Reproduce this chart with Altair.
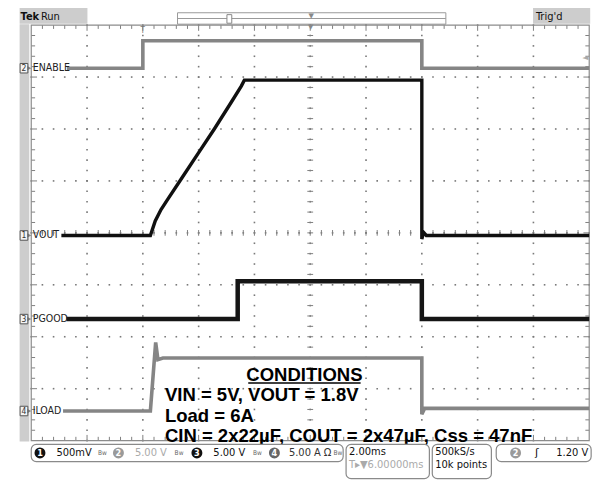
import altair as alt
import pandas as pd

# ---------------- data (graticule divisions: x 0..10 at 2 ms/div, y -4..4) ----------------
enable_x = [0.64, 2.00, 2.00, 7.00, 7.00, 10.00]
enable_y = [3.17, 3.17, 3.70, 3.70, 3.17, 3.17]

vout_x = [0.54, 2.135, 2.222, 2.326, 2.448, 2.708, 3.003, 3.281, 3.576, 3.767, 3.819, 7.00, 7.00, 7.03, 7.08, 10.00]
vout_y = [-0.05, -0.05, 0.23, 0.45, 0.65, 1.07, 1.55, 2.00, 2.50, 2.83, 2.94, 2.94, -0.12, 0.01, -0.05, -0.05]

pgood_x = [0.63, 3.70, 3.70, 7.00, 7.00, 10.00]
pgood_y = [-1.66, -1.66, -0.93, -0.93, -1.66, -1.66]

iload_x = [0.57, 2.135, 2.23, 2.27, 2.36, 7.00, 7.00, 7.05, 10.00]
iload_y = [-3.43, -3.43, -2.11, -2.44, -2.41, -2.41, -3.49, -3.38, -3.38]

chan_names = ["ENABLE", "VOUT", "PGOOD", "ILOAD"]
chan_nums = ["2", "1", "3", "4"]
chan_levels = [3.17, -0.05, -1.66, -3.43]

cond_title = "CONDITIONS"
cond_lines = ["VIN = 5V, VOUT = 1.8V", "Load = 6A", "CIN = 2x22\u00b5F, COUT = 2x47\u00b5F, Css = 47nF"]

# ---------------- geometry of the scope screen (reference pixels -> divisions) ----------------
PX, PY = 57.6, 54.625
GX0, GY0 = 24.0, 236.5


def dx(px):
    return (px - GX0) / PX


def dy(py):
    return (GY0 - py) / PY


W, H = 591, 472
xs = alt.Scale(domain=[dx(0), dx(607)], nice=False, zero=False)
ys = alt.Scale(domain=[dy(488), dy(0)], nice=False, zero=False)


def X(f="x"):
    return alt.X(f"{f}:Q", scale=xs, axis=None)


def Y(f="y"):
    return alt.Y(f"{f}:Q", scale=ys, axis=None)


layers = []


def rects(rows, **kw):
    df = pd.DataFrame([{"x": dx(a), "x2": dx(b), "y": dy(c), "y2": dy(d)} for a, b, c, d in rows])
    return alt.Chart(df).mark_rect(**kw).encode(x=X(), x2="x2:Q", y=Y(), y2="y2:Q")


def texts(rows, **kw):
    df = pd.DataFrame([{"x": dx(a), "y": dy(b), "t": t} for a, b, t in rows])
    return alt.Chart(df).mark_text(**kw).encode(x=X(), y=Y(), text="t:N")


# gray side strip and top bar panels
layers.append(rects([(12, 22, 17, 456), (12, 82, 0, 16.5), (542, 601, 0, 16.5)], color="#cdcdcd"))
# record-length bar
layers.append(rects([(175, 452, 5, 17)], fill="white", stroke="#9a9a9a", strokeWidth=1))
layers.append(rects([(175, 452, 10.5, 11.5)], color="#9a9a9a"))
layers.append(rects([(226, 231, 7, 16)], fill="white", stroke="#888", strokeWidth=1))

# ---------------- graticule ----------------
steps = [i * 0.2 for i in range(51)]
ysteps = [i * 0.2 - 4 for i in range(41)]
dots = [{"x": float(gx), "y": float(v)} for gx in range(1, 10) for v in ysteps]
dots += [{"x": float(v), "y": float(gy)} for gy in range(-3, 4) for v in steps]
layers.append(alt.Chart(pd.DataFrame(dots)).mark_square(size=2.6, color="#7a7a7a", opacity=1).encode(x=X(), y=Y()))

ticks_v = []  # vertical tick segments (x fixed)
for v in steps[1:-1]:
    L = 6 if abs(v - round(v)) < 1e-6 else 4
    ticks_v.append({"x": v, "y": 4, "y2": 4 - L / PY})
    ticks_v.append({"x": v, "y": -4, "y2": -4 + L / PY})
    ticks_v.append({"x": v, "y": 3 / PY, "y2": -3 / PY})
ticks_h = []
for v in ysteps[1:-1]:
    L = 6 if abs(v - round(v)) < 1e-6 else 4
    ticks_h.append({"y": v, "x": 0, "x2": L / PX})
    ticks_h.append({"y": v, "x": 10, "x2": 10 - L / PX})
    ticks_h.append({"y": v, "x": 5 - 3 / PX, "x2": 5 + 3 / PX})
layers.append(alt.Chart(pd.DataFrame(ticks_v)).mark_rule(color="#808080", strokeWidth=1).encode(x=X(), y=Y(), y2="y2:Q"))
layers.append(alt.Chart(pd.DataFrame(ticks_h)).mark_rule(color="#808080", strokeWidth=1).encode(x=X(), x2="x2:Q", y=Y()))
layers.append(alt.Chart(pd.DataFrame([{"x": 0, "x2": 10, "y": -4, "y2": 4}])).mark_rect(
    fill=None, stroke="#8c8c8c", strokeWidth=1.2).encode(x=X(), x2="x2:Q", y=Y(), y2="y2:Q"))

# ---------------- traces ----------------


def trace(xv, yv, color, width):
    df = pd.DataFrame({"x": xv, "y": yv, "i": list(range(len(xv)))})
    return alt.Chart(df).mark_line(color=color, strokeWidth=width, strokeJoin="miter").encode(
        x=X(), y=Y(), order="i:Q")


layers.append(trace(enable_x, enable_y, "#858585", 3.6))
layers.append(trace(iload_x, iload_y, "#858585", 3.6))
layers.append(trace(pgood_x, pgood_y, "#151515", 4.5))
layers.append(trace(vout_x, vout_y, "#101010", 3.4))

# channel markers and labels
mk = pd.DataFrame({"y": chan_levels, "n": chan_nums, "name": chan_names})
mk["xa"] = dx(12.5)
mk["xb"] = dx(20.5)
mk["ya"] = mk["y"] + 5 / PY
mk["yb"] = mk["y"] - 5 / PY
mk["xn"] = dx(16.5)
mk["xt"] = dx(22)
mk["xl"] = dx(25.5)
layers.append(alt.Chart(mk).mark_rect(fill="#f4f4f4", stroke="#555", strokeWidth=1).encode(
    x=X("xa"), x2="xb:Q", y=Y("ya"), y2="yb:Q"))
layers.append(alt.Chart(mk).mark_text(font="DejaVu Sans Condensed", fontSize=8.5, color="#333").encode(
    x=X("xn"), y=Y(), text="n:N"))
layers.append(alt.Chart(mk).mark_point(shape="triangle-right", filled=True, size=18, color="#555").encode(
    x=X("xt"), y=Y()))
layers.append(alt.Chart(mk).mark_text(font="DejaVu Sans Condensed", fontSize=10.5, color="#222", align="left",
                                      baseline="middle").encode(x=X("xl"), y=Y(), text="name:N"))

# trigger markers on the ruler / right edge
layers.append(texts([(139, 24, "T")], font="DejaVu Sans Condensed", fontSize=8, color="#777"))
layers.append(texts([(312.5, 20.5, "\u25bc"), (313, 8, "\u25bc")], font="DejaVu Sans", fontSize=7, color="#888"))
layers.append(texts([(596, 53, "\u25c4")], font="DejaVu Sans", fontSize=8, color="#aaa"))

# top status text
layers.append(texts([(13, 9, "Tek")], font="DejaVu Sans Condensed", fontSize=11, fontWeight="bold",
                    color="#111", align="left"))
layers.append(texts([(34, 9, "Run"), (545, 9, "Trig'd")], font="DejaVu Sans Condensed", fontSize=11,
                    color="#111", align="left"))

# ---------------- conditions annotation ----------------
layers.append(texts([(306, 385.5, cond_title)], font="Liberation Sans", fontSize=18.5, fontWeight="bold",
                    color="#000", align="center"))
layers.append(rects([(248, 364, 393.5, 395.2)], color="#000"))
layers.append(texts([(162, 407 + 21.7 * k, s) for k, s in enumerate(cond_lines)], font="Liberation Sans",
                    fontSize=18.5, fontWeight="bold", color="#000", align="left"))

# ---------------- bottom status bar ----------------
layers.append(rects([(24, 346, 459, 477), (504, 602, 459, 477), (349, 435, 459, 495), (438, 499, 459, 495)],
                    fill="white", stroke="#8a8a8a", strokeWidth=1.2, cornerRadius=5))
circ = pd.DataFrame({"x": [dx(33), dx(114), dx(195), dx(275), dx(524)],
                     "y": [dy(468)] * 5,
                     "c": ["#111", "#9a9a9a", "#111", "#666", "#9a9a9a"],
                     "t": ["1", "2", "3", "4", "2"]})
layers.append(alt.Chart(circ).mark_circle(size=120, opacity=1).encode(
    x=X(), y=Y(), color=alt.Color("c:N", scale=None)))
layers.append(alt.Chart(circ).mark_text(font="DejaVu Sans Condensed", fontSize=9, fontWeight="bold",
                                        color="white").encode(x=X(), y=Y(), text="t:N"))
F = "DejaVu Sans Condensed"
layers.append(texts([(50, 468, "500mV"), (212, 468, "5.00 V"), (352, 467, "2.00ms"),
                     (441, 467, "500kS/s"), (441, 481, "10k points")],
                    font=F, fontSize=11, color="#111", align="left"))
layers.append(texts([(131, 468, "5.00 V")], font=F, fontSize=11, color="#aaa", align="left"))
layers.append(texts([(290, 468, "5.00 A"), (326, 468, "\u03a9")], font=F, fontSize=11, color="#333",
                    align="left"))
layers.append(texts([(352, 481, "T\u25b8\u25bc6.00000ms")], font=F, fontSize=11, color="#aaa", align="left"))
layers.append(texts([(93, 468, "Bw"), (172, 468, "Bw"), (253, 468, "Bw"), (336, 468, "Bw")],
                    font=F, fontSize=6.5, color="#666", align="left"))
layers.append(texts([(546, 468, "\u0283")], font="DejaVu Sans", fontSize=11, color="#111"))
layers.append(texts([(599, 468, "1.20 V")], font=F, fontSize=11, color="#111", align="right"))

chart = alt.layer(*layers).properties(
    width=W, height=H,
    autosize=alt.AutoSizeParams(type="fit", contains="padding"),
    padding=0,
    background="white",
).configure_view(stroke=None)

chart.save("out.html", embed_options={"renderer": "svg", "actions": False})
